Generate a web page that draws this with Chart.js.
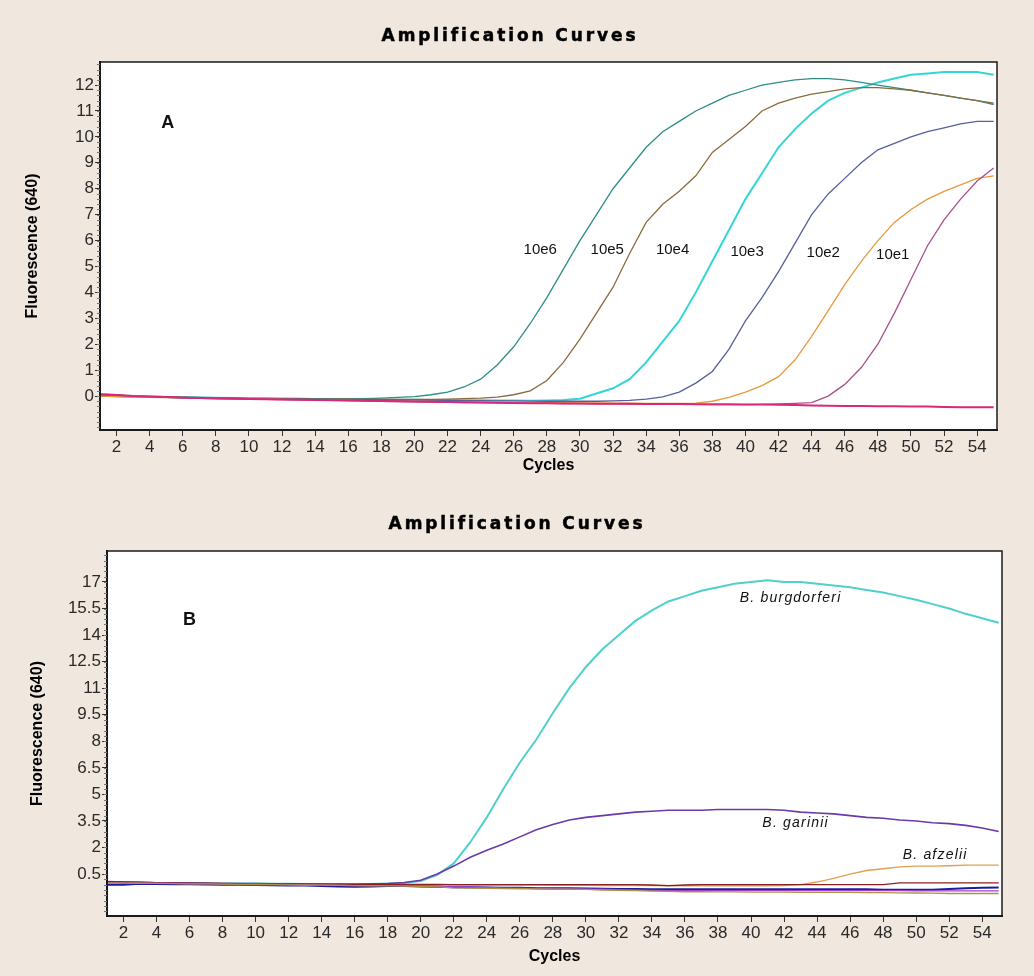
<!DOCTYPE html>
<html>
<head>
<meta charset="utf-8">
<title>Amplification Curves</title>
<script src="https://cdn.jsdelivr.net/npm/chart.js@4.4.1/dist/chart.umd.min.js"></script>
<style>
  html, body { margin: 0; padding: 0; background: #f0e8df; }
  .panel { position: relative; width: 1034px; height: 488px; }
  canvas { display: block; }
</style>
</head>
<body>
<div class="panel"><canvas id="chart-a"></canvas></div>
<div class="panel"><canvas id="chart-b"></canvas></div>
<script>
"use strict";

// cycle numbers shared by every curve
const cycles = [
  1, 2, 3, 4, 5, 6, 7, 8, 9, 10, 11, 12, 13, 14, 15, 16, 17, 18, 19, 20,
  21, 22, 23, 24, 25, 26, 27, 28, 29, 30, 31, 32, 33, 34, 35, 36, 37, 38, 39, 40,
  41, 42, 43, 44, 45, 46, 47, 48, 49, 50, 51, 52, 53, 54, 55,
];
const xTicks = [2, 4, 6, 8, 10, 12, 14, 16, 18, 20, 22, 24, 26, 28, 30, 32, 34, 36, 38, 40, 42, 44, 46, 48, 50, 52, 54];
const yTicksA = [0, 1, 2, 3, 4, 5, 6, 7, 8, 9, 10, 11, 12];
const yTicksB = [0.5, 2, 3.5, 5, 6.5, 8, 9.5, 11, 12.5, 14, 15.5, 17];

// panel A: dilution series
const s10e6 = [
  0.05, 0.02, 0.0, -0.02, -0.03, -0.04, -0.05, -0.06, -0.07, -0.08,
  -0.08, -0.09, -0.09, -0.1, -0.1, -0.1, -0.1, -0.08, -0.05, -0.02,
  0.05, 0.15, 0.35, 0.65, 1.2, 1.9, 2.8, 3.8, 4.9, 6.0,
  7.0, 8.0, 8.8, 9.6, 10.2, 10.6, 11.0, 11.3, 11.6, 11.8,
  12.0, 12.1, 12.2, 12.25, 12.25, 12.2, 12.1, 12.0, 11.9, 11.8,
  11.7, 11.6, 11.5, 11.4, 11.25,
];
const s10e5 = [
  0.02, 0.0, -0.02, -0.03, -0.05, -0.06, -0.07, -0.08, -0.09, -0.1,
  -0.1, -0.11, -0.11, -0.12, -0.12, -0.12, -0.13, -0.13, -0.13, -0.13,
  -0.13, -0.12, -0.1, -0.08, -0.04, 0.05, 0.2, 0.6, 1.3, 2.2,
  3.2, 4.2, 5.5, 6.7, 7.4, 7.9, 8.5, 9.4, 9.9, 10.4,
  11.0, 11.3, 11.5, 11.65, 11.75, 11.85, 11.9, 11.9, 11.85, 11.8,
  11.7, 11.6, 11.5, 11.4, 11.3,
];
const s10e4 = [
  0.05, 0.02, 0.0, -0.02, -0.04, -0.05, -0.06, -0.07, -0.08, -0.09,
  -0.1, -0.1, -0.11, -0.11, -0.12, -0.12, -0.13, -0.13, -0.14, -0.14,
  -0.15, -0.15, -0.16, -0.16, -0.17, -0.17, -0.18, -0.17, -0.15, -0.1,
  0.1, 0.3, 0.65, 1.3, 2.1, 2.9, 4.0, 5.2, 6.4, 7.6,
  8.6, 9.6, 10.3, 10.9, 11.4, 11.7, 11.9, 12.1, 12.25, 12.4,
  12.45, 12.5, 12.5, 12.5, 12.4,
];
const s10e3 = [
  0.0, -0.02, -0.03, -0.04, -0.05, -0.06, -0.07, -0.08, -0.09, -0.1,
  -0.11, -0.12, -0.12, -0.13, -0.13, -0.14, -0.15, -0.15, -0.16, -0.16,
  -0.17, -0.17, -0.18, -0.18, -0.19, -0.19, -0.2, -0.2, -0.2, -0.2,
  -0.2, -0.19, -0.17, -0.12, -0.03, 0.15, 0.5, 0.95, 1.8, 2.9,
  3.8, 4.8, 5.9, 7.0, 7.8, 8.4, 9.0, 9.5, 9.75, 10.0,
  10.2, 10.35, 10.5, 10.6, 10.6,
];
const s10e2 = [
  0.0, -0.02, -0.04, -0.05, -0.06, -0.07, -0.08, -0.09, -0.1, -0.11,
  -0.12, -0.13, -0.14, -0.15, -0.16, -0.17, -0.18, -0.19, -0.2, -0.2,
  -0.21, -0.22, -0.22, -0.23, -0.23, -0.24, -0.24, -0.25, -0.25, -0.26,
  -0.26, -0.27, -0.27, -0.28, -0.28, -0.28, -0.27, -0.2, -0.05, 0.15,
  0.4, 0.75, 1.4, 2.3, 3.3, 4.3, 5.2, 6.0, 6.7, 7.2,
  7.6, 7.9, 8.15, 8.4, 8.5,
];
const s10e1 = [
  0.08, 0.05, 0.0, -0.03, -0.05, -0.07, -0.09, -0.1, -0.11, -0.12,
  -0.13, -0.14, -0.15, -0.16, -0.17, -0.18, -0.19, -0.2, -0.21, -0.22,
  -0.23, -0.24, -0.25, -0.25, -0.26, -0.27, -0.28, -0.28, -0.29, -0.29,
  -0.3, -0.3, -0.31, -0.31, -0.32, -0.32, -0.32, -0.33, -0.33, -0.33,
  -0.32, -0.3, -0.28, -0.25, 0.0, 0.45, 1.1, 2.0, 3.2, 4.5,
  5.8, 6.8, 7.6, 8.3, 8.8,
];
const sNtc = [
  0.06, 0.04, 0.0, -0.02, -0.04, -0.06, -0.08, -0.09, -0.1, -0.11,
  -0.12, -0.13, -0.14, -0.15, -0.16, -0.17, -0.18, -0.19, -0.2, -0.21,
  -0.22, -0.23, -0.24, -0.25, -0.26, -0.27, -0.28, -0.28, -0.29, -0.29,
  -0.3, -0.3, -0.3, -0.31, -0.31, -0.31, -0.32, -0.32, -0.32, -0.33,
  -0.33, -0.34, -0.35, -0.36, -0.37, -0.38, -0.38, -0.39, -0.39, -0.4,
  -0.4, -0.42, -0.43, -0.43, -0.43,
];
const labelsA = ["10e6", "10e5", "10e4", "10e3", "10e2", "10e1"];
const labelCyclesA = [27.6, 31.65, 35.6, 40.1, 44.7, 48.9];
const labelLevelsA = [5.64, 5.64, 5.64, 5.56, 5.52, 5.44];

// panel B: species
const sBurg = [
  0.05, 0.03, 0.02, 0.0, 0.0, -0.01, -0.02, -0.03, -0.03, -0.04,
  -0.05, -0.05, -0.06, -0.06, -0.07, -0.07, -0.06, -0.04, 0.0, 0.1,
  0.45, 1.1, 2.3, 3.7, 5.3, 6.8, 8.1, 9.6, 11.0, 12.2,
  13.2, 14.0, 14.8, 15.4, 15.9, 16.2, 16.5, 16.7, 16.9, 17.0,
  17.1, 17.0, 17.0, 16.9, 16.8, 16.7, 16.55, 16.4, 16.2, 16.0,
  15.75, 15.5, 15.2, 14.95, 14.7,
];
const sGarinii = [
  0.05, 0.03, 0.02, 0.0, 0.0, -0.01, -0.02, -0.03, -0.03, -0.04,
  -0.05, -0.05, -0.06, -0.06, -0.06, -0.06, -0.05, -0.03, 0.02, 0.15,
  0.5, 0.95, 1.45, 1.85, 2.2, 2.6, 3.0, 3.3, 3.55, 3.7,
  3.8, 3.9, 4.0, 4.05, 4.1, 4.1, 4.1, 4.15, 4.15, 4.15,
  4.15, 4.1, 4.0, 3.95, 3.9, 3.8, 3.7, 3.65, 3.55, 3.5,
  3.4, 3.35, 3.25, 3.1, 2.9,
];
const sAfzelii = [
  0.0, 0.0, -0.01, -0.02, -0.03, -0.04, -0.05, -0.05, -0.06, -0.06,
  -0.07, -0.07, -0.08, -0.08, -0.09, -0.09, -0.1, -0.1, -0.1, -0.11,
  -0.11, -0.12, -0.12, -0.12, -0.13, -0.13, -0.13, -0.14, -0.14, -0.14,
  -0.15, -0.15, -0.15, -0.15, -0.16, -0.16, -0.16, -0.16, -0.16, -0.16,
  -0.16, -0.15, -0.1, 0.05, 0.25, 0.5, 0.7, 0.8, 0.9, 0.95,
  0.95, 0.97, 1.0, 1.0, 1.0,
];
const sNegRed = [
  0.08, 0.06, 0.04, 0.02, 0.0, -0.01, -0.02, -0.03, -0.04, -0.05,
  -0.05, -0.06, -0.06, -0.07, -0.07, -0.08, -0.08, -0.08, -0.09, -0.09,
  -0.09, -0.1, -0.1, -0.1, -0.1, -0.1, -0.1, -0.1, -0.1, -0.1,
  -0.1, -0.1, -0.1, -0.12, -0.15, -0.12, -0.1, -0.1, -0.1, -0.1,
  -0.1, -0.1, -0.1, -0.1, -0.1, -0.1, -0.1, -0.1, 0.0, 0.0,
  0.0, 0.0, 0.0, 0.0, 0.0,
];
const sNegNavy = [
  -0.1, -0.1, -0.05, -0.06, -0.07, -0.08, -0.09, -0.1, -0.11, -0.12,
  -0.13, -0.14, -0.15, -0.17, -0.2, -0.22, -0.2, -0.18, -0.18, -0.2,
  -0.22, -0.24, -0.25, -0.26, -0.27, -0.28, -0.3, -0.3, -0.3, -0.32,
  -0.33, -0.34, -0.35, -0.36, -0.36, -0.36, -0.36, -0.36, -0.36, -0.36,
  -0.36, -0.36, -0.36, -0.36, -0.36, -0.36, -0.36, -0.38, -0.38, -0.38,
  -0.38, -0.34, -0.3, -0.28, -0.26,
];
const sNegTan = [
  0.0, -0.01, -0.02, -0.03, -0.04, -0.05, -0.06, -0.07, -0.08, -0.09,
  -0.1, -0.11, -0.12, -0.13, -0.14, -0.15, -0.16, -0.17, -0.18, -0.2,
  -0.22, -0.28, -0.3, -0.31, -0.32, -0.33, -0.34, -0.35, -0.36, -0.37,
  -0.4, -0.42, -0.44, -0.46, -0.48, -0.5, -0.5, -0.51, -0.51, -0.52,
  -0.52, -0.52, -0.53, -0.53, -0.54, -0.54, -0.55, -0.55, -0.56, -0.57,
  -0.58, -0.6, -0.6, -0.6, -0.6,
];
const sNegViolet = [
  0.02, 0.0, -0.01, -0.02, -0.03, -0.05, -0.06, -0.07, -0.08, -0.09,
  -0.1, -0.11, -0.12, -0.13, -0.14, -0.15, -0.15, -0.15, -0.16, -0.17,
  -0.2, -0.22, -0.24, -0.26, -0.28, -0.3, -0.32, -0.33, -0.34, -0.35,
  -0.36, -0.38, -0.4, -0.42, -0.44, -0.44, -0.44, -0.44, -0.44, -0.44,
  -0.44, -0.44, -0.44, -0.44, -0.44, -0.44, -0.44, -0.44, -0.44, -0.45,
  -0.45, -0.45, -0.45, -0.45, -0.45,
];
const labelsB = ["B. burgdorferi", "B. garinii", "B. afzelii"];
const labelCyclesB = [42.4, 42.7, 51.15];
const labelLevelsB = [16.1, 3.38, 1.57];

const SANS = '"Liberation Sans", Arial, sans-serif';

function points(vals) {
  return vals.map((v, i) => ({ x: cycles[i], y: v }));
}

function line(label, vals, color, width) {
  return {
    label,
    data: points(vals),
    borderColor: color,
    borderWidth: width || 1.3,
    pointRadius: 0,
    tension: 0,
    fill: false,
  };
}

// white plot area, frame and minor y ticks
const plotFrame = {
  id: "plotFrame",
  beforeDraw(chart) {
    const { ctx, chartArea: a } = chart;
    ctx.save();
    ctx.fillStyle = "#fff";
    ctx.fillRect(a.left, a.top, a.right - a.left, a.bottom - a.top);
    ctx.restore();
  },
  afterDatasetsDraw(chart, args, opts) {
    const { ctx, chartArea: a, scales } = chart;
    ctx.save();
    ctx.strokeStyle = "#1a1a1a";
    ctx.lineWidth = 1.5;
    ctx.strokeRect(a.left, a.top, a.right - a.left, a.bottom - a.top);
    ctx.lineWidth = 2;
    ctx.beginPath();
    ctx.moveTo(a.left, a.top);
    ctx.lineTo(a.left, a.bottom);
    ctx.lineTo(a.right, a.bottom);
    ctx.stroke();
    // minor ticks on the value axis
    const y = scales.y;
    ctx.strokeStyle = "#777";
    ctx.lineWidth = 1;
    ctx.beginPath();
    for (let k = 0; ; k++) {
      const v = opts.minorFrom + k * opts.minorStep;
      if (v > y.max) break;
      const py = Math.round(y.getPixelForValue(v)) + 0.5;
      ctx.moveTo(a.left - 3, py);
      ctx.lineTo(a.left, py);
    }
    ctx.stroke();
    ctx.restore();
  },
};

const curveLabels = {
  id: "curveLabels",
  afterDatasetsDraw(chart, args, opts) {
    const { ctx, scales: { x, y } } = chart;
    ctx.save();
    ctx.fillStyle = "#111";
    ctx.textAlign = "center";
    ctx.textBaseline = "middle";
    ctx.font = opts.font;
    ctx.letterSpacing = opts.spacing;
    opts.texts.forEach((t, i) => {
      ctx.fillText(t, x.getPixelForValue(opts.xs[i]), y.getPixelForValue(opts.ys[i]));
    });
    if (opts.panel) {
      ctx.letterSpacing = "0px";
      ctx.font = "bold 18px " + SANS;
      ctx.fillText(opts.panel.text, x.getPixelForValue(opts.panel.x), y.getPixelForValue(opts.panel.y));
    }
    ctx.restore();
  },
};

const panelTitle = {
  id: "panelTitle",
  afterDraw(chart, args, opts) {
    const { ctx } = chart;
    ctx.save();
    ctx.font = 'bold 17px "DejaVu Sans", sans-serif';
    ctx.letterSpacing = "2.9px";
    ctx.fillStyle = "#000";
    ctx.strokeStyle = "#000";
    ctx.lineWidth = 0.5;
    ctx.textAlign = "center";
    ctx.textBaseline = "middle";
    ctx.fillText(opts.text, opts.x, opts.y);
    ctx.strokeText(opts.text, opts.x, opts.y);
    ctx.restore();
  },
};

function makeChart(canvasId, cfg) {
  return new Chart(document.getElementById(canvasId), {
    type: "line",
    data: { datasets: cfg.datasets },
    options: {
      responsive: true,
      maintainAspectRatio: false,
      animation: false,
      layout: { padding: { top: cfg.top, right: cfg.right, left: 0, bottom: 0 } },
      scales: {
        x: {
          type: "linear",
          min: 1,
          max: 55.2,
          afterBuildTicks: (s) => { s.ticks = xTicks.map((v) => ({ value: v })); },
          afterFit: (s) => { s.height = cfg.xHeight; },
          grid: { drawOnChartArea: false, tickLength: 6, color: "#333" },
          border: { display: true, color: "#111", width: 2 },
          ticks: { font: { family: SANS, size: 17 }, color: "#2a2a2a", padding: 1, maxRotation: 0, autoSkip: false },
          title: {
            display: true,
            text: "Cycles",
            color: "#000",
            font: { family: SANS, size: 16, weight: "bold" },
            padding: { top: 0, bottom: cfg.xTitlePad },
          },
        },
        y: {
          type: "linear",
          min: cfg.yMin,
          max: cfg.yMax,
          afterBuildTicks: (s) => { s.ticks = cfg.yTicks.map((v) => ({ value: v })); },
          afterFit: (s) => { s.width = cfg.yWidth; },
          grid: { drawOnChartArea: false, tickLength: 5, color: "#333" },
          border: { display: true, color: "#111", width: 2 },
          ticks: { font: { family: SANS, size: 17 }, color: "#2a2a2a", padding: 1, autoSkip: false },
          title: {
            display: true,
            text: "Fluorescence (640)",
            color: "#000",
            font: { family: SANS, size: 16, weight: "bold" },
            padding: { top: cfg.yTitlePad, bottom: 0 },
          },
        },
      },
      plugins: {
        legend: { display: false },
        tooltip: { enabled: false },
        plotFrame: { minorFrom: cfg.minorFrom, minorStep: cfg.minorStep },
        curveLabels: cfg.labels,
        panelTitle: { text: "Amplification Curves", x: cfg.titleX, y: 37 },
      },
    },
    plugins: [plotFrame, curveLabels, panelTitle],
  });
}

makeChart("chart-a", {
  datasets: [
    line("NTC", sNtc, "#d8287a", 2),
    line("10e1", s10e1, "#a8508c"),
    line("10e2", s10e2, "#e69a3c"),
    line("10e3", s10e3, "#56609a"),
    line("10e5", s10e5, "#8b6b3d"),
    line("10e6", s10e6, "#2f8c86"),
    line("10e4", s10e4, "#33d6d6", 2),
  ],
  yMin: -1.31, yMax: 12.89, yTicks: yTicksA,
  top: 62, right: 37, yWidth: 100, xHeight: 58,
  xTitlePad: 13, yTitlePad: 23,
  minorFrom: -1.2, minorStep: 0.2,
  titleX: 510,
  labels: {
    font: "15px " + SANS,
    spacing: "0px",
    texts: labelsA, xs: labelCyclesA, ys: labelLevelsA,
    panel: { text: "A", x: 5.1, y: 10.55 },
  },
});

makeChart("chart-b", {
  datasets: [
    line("neg 1", sNegTan, "#b0904a"),
    line("neg 2", sNegViolet, "#a040d0"),
    line("neg 3", sNegRed, "#8a2020"),
    line("neg 4", sNegNavy, "#1c1c9c", 2),
    line("B. afzelii", sAfzelii, "#e0a050"),
    line("B. garinii", sGarinii, "#6a3aa8", 1.6),
    line("B. burgdorferi", sBurg, "#4fd0cc", 2),
  ],
  yMin: -1.87, yMax: 18.75, yTicks: yTicksB,
  top: 63, right: 32, yWidth: 107, xHeight: 60,
  xTitlePad: 10, yTitlePad: 28,
  minorFrom: -1.6, minorStep: 0.3,
  titleX: 517,
  labels: {
    font: "italic 14px " + SANS,
    spacing: "1.2px",
    texts: labelsB, xs: labelCyclesB, ys: labelLevelsB,
    panel: { text: "B", x: 6.0, y: 14.85 },
  },
});
</script>
</body>
</html>
